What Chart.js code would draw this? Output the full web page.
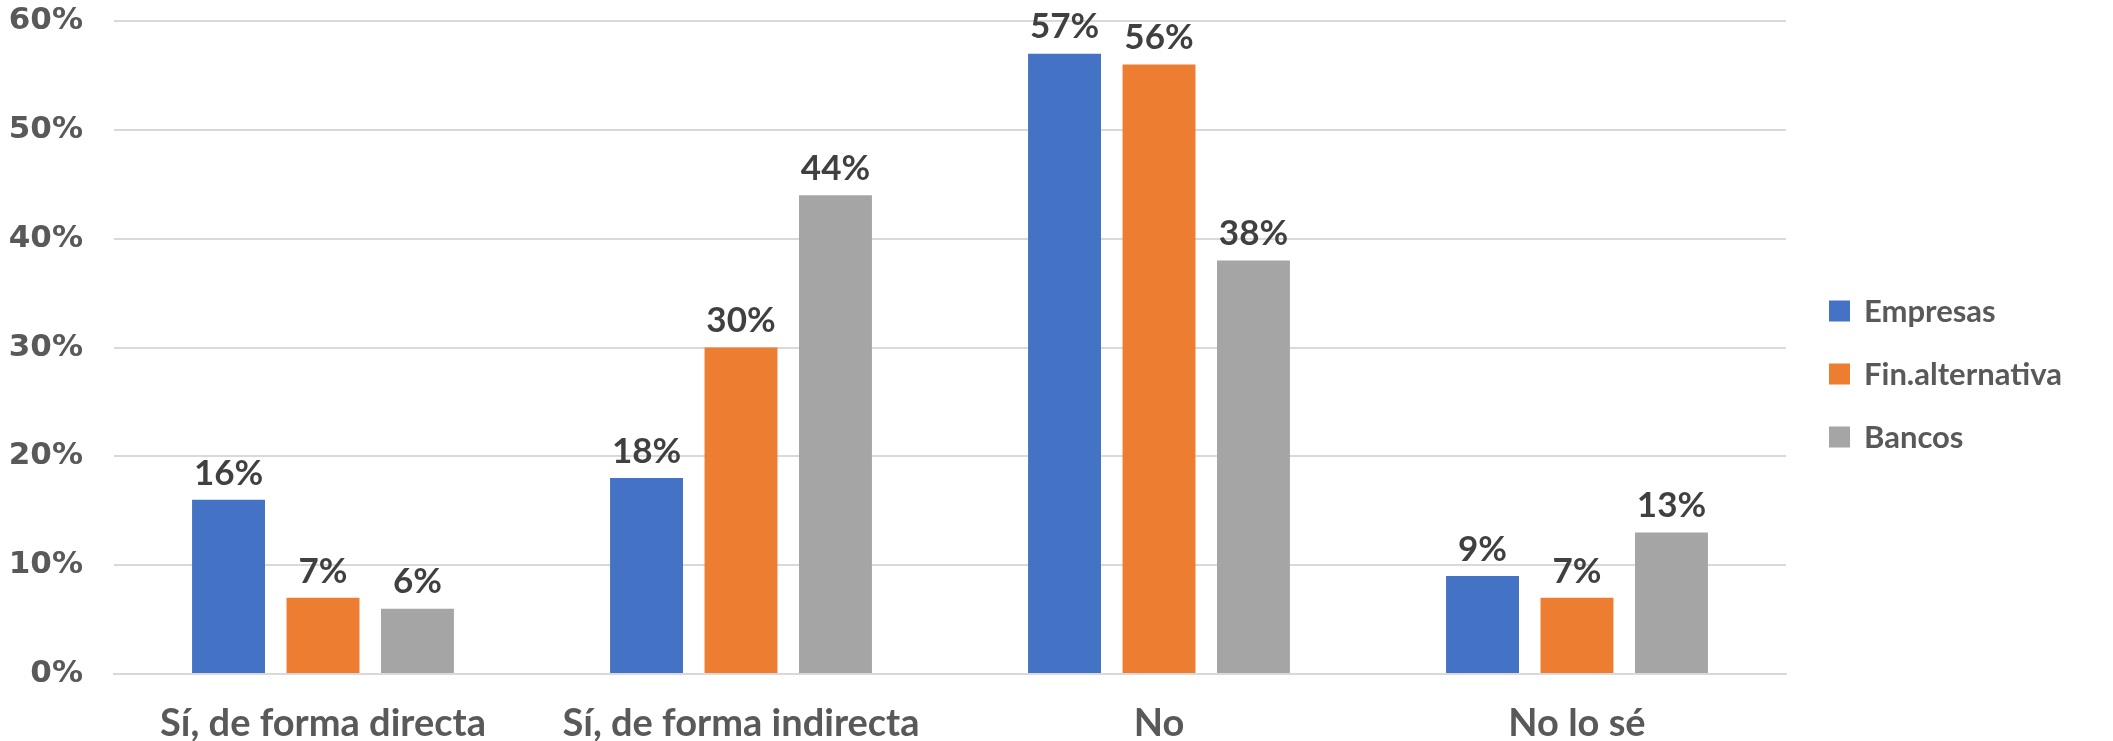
<!DOCTYPE html>
<html><head><meta charset="utf-8">
<script src="https://cdn.jsdelivr.net/npm/chart.js@4/dist/chart.umd.min.js"></script>
<style>html,body{margin:0;padding:0;background:#fff;overflow:hidden}#wrap{width:2113px;height:741px;position:relative}</style>
</head><body><div id="wrap"><canvas id="c" width="2113" height="741"></canvas></div>
<script>
const categories = ['Sí, de forma directa', 'Sí, de forma indirecta', 'No', 'No lo sé'];
const seriesNames = ['Empresas', 'Fin.alternativa', 'Bancos'];
const empresas = [16, 18, 57, 9];
const finAlternativa = [7, 30, 56, 7];
const bancos = [6, 44, 38, 13];
const yTickValues = [0, 10, 20, 30, 40, 50, 60];
const seriesColors = ['#4472C4', '#ED7D31', '#A5A5A5'];

const labelFont = 'Lato, Carlito, sans-serif';

const dataLabels = {
  id: 'dataLabels',
  afterDatasetsDraw(chart) {
    const ctx = chart.ctx;
    ctx.save();
    ctx.font = 'bold 35px ' + labelFont;
    ctx.fillStyle = '#404040';
    ctx.textAlign = 'center';
    ctx.textBaseline = 'bottom';
    chart.data.datasets.forEach((ds, i) => {
      const meta = chart.getDatasetMeta(i);
      meta.data.forEach((el, j) => {
        ctx.fillText(ds.data[j] + '%', el.x, el.y - 9);
      });
    });
    ctx.restore();
  }
};

const customLegend = {
  id: 'customLegend',
  afterDraw(chart) {
    const ctx = chart.ctx;
    ctx.save();
    ctx.font = 'bold 31px ' + labelFont;
    ctx.textBaseline = 'middle';
    ctx.textAlign = 'left';
    const x0 = 1829, y0 = 311, step = 63, box = 21;
    chart.data.datasets.forEach((ds, i) => {
      const y = y0 + i * step;
      ctx.fillStyle = ds.backgroundColor;
      ctx.fillRect(x0, y - box / 2, box, box);
      ctx.fillStyle = '#595959';
      ctx.fillText(ds.label, 1864, y + 1);
    });
    ctx.restore();
  }
};

new Chart(document.getElementById('c'), {
  type: 'bar',
  data: {
    labels: categories,
    datasets: [
      { label: seriesNames[0], data: empresas, backgroundColor: seriesColors[0] },
      { label: seriesNames[1], data: finAlternativa, backgroundColor: seriesColors[1] },
      { label: seriesNames[2], data: bancos, backgroundColor: seriesColors[2] }
    ]
  },
  options: {
    responsive: false,
    animation: false,
    devicePixelRatio: 1,
    layout: { padding: { top: 21, right: 327, left: 0, bottom: 0 } },
    datasets: { bar: { categoryPercentage: 0.678, barPercentage: 0.772 } },
    plugins: { legend: { display: false }, tooltip: { enabled: false } },
    scales: {
      x: {
        grid: { display: false, drawTicks: false },
        border: { display: true, color: '#D9D9D9', width: 2 },
        ticks: { color: '#595959', font: { family: labelFont, size: 38, weight: 'bold' }, padding: 27, maxRotation: 0 },
        afterFit: s => { s.height = 67; s.paddingLeft = 0; s.paddingRight = 0; }
      },
      y: {
        min: 0, max: 60,
        afterBuildTicks: s => { s.ticks = yTickValues.map(v => ({ value: v })); },
        grid: { color: '#D9D9D9', lineWidth: 2, drawTicks: false },
        border: { display: false },
        ticks: { color: '#595959', font: { family: 'DejaVu Sans', size: 31, weight: 'bold' }, padding: 31, callback: v => v + '%' },
        afterFit: s => { s.width = 114; s.paddingTop = 0; s.paddingBottom = 0; }
      }
    }
  },
  plugins: [dataLabels, customLegend]
});
</script>
</body></html>
